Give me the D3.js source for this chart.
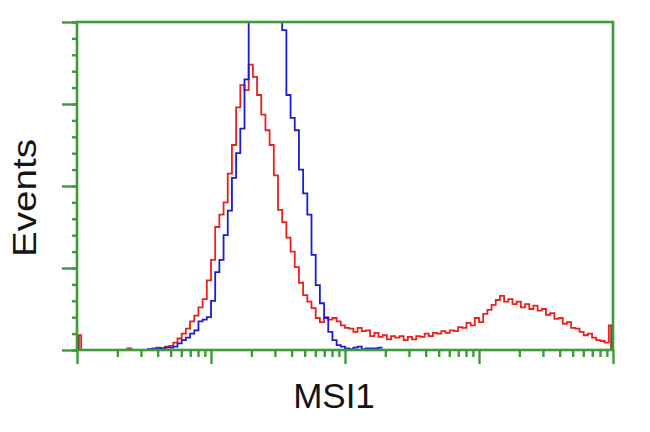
<!DOCTYPE html>
<html>
<head>
<meta charset="utf-8">
<script src="https://cdn.jsdelivr.net/npm/d3@7/dist/d3.min.js"></script>
<style>
  html, body { margin: 0; padding: 0; background: #ffffff; }
  svg { display: block; }
</style>
</head>
<body>
<svg id="chart" width="650" height="432"></svg>
<script>
// ---- data (128 channels over 4 log decades) ----
const xLabel = "MSI1";
const yLabel = "Events";
const channelsPerDecade = 32;
const decades = [1, 10, 100, 1000, 10000];

// red histogram (sample)
const redCounts = [
  18, 0, 0, 0, 0, 0, 0, 0, 0, 0, 0, 0, 2, 0, 0, 0,
  0, 1, 2, 3, 2, 4, 5, 9, 14, 20, 26, 35, 42, 52, 62, 85,
  110, 150, 165, 180, 215, 250, 296, 323, 317, 348, 333, 311, 287, 268, 250, 213,
  171, 156, 137, 120, 101, 82, 67, 59, 51, 39, 34, 40, 37, 39, 35, 30,
  27, 26, 22, 27, 23, 24, 17, 21, 16, 18, 13, 17, 15, 17, 12, 16,
  13, 17, 16, 20, 17, 21, 20, 23, 21, 24, 23, 28, 27, 33, 30, 39,
  34, 44, 49, 55, 61, 66, 59, 62, 56, 59, 52, 56, 50, 54, 48, 50,
  43, 45, 38, 39, 32, 34, 27, 26, 22, 18, 20, 15, 12, 11, 9, 30
];

// blue histogram (isotype control), ends at channel 72
const blueCounts = [
  0, 0, 0, 0, 0, 0, 0, 0, 0, 0, 0, 0, 0, 0, 0, 0,
  0, 1, 1, 2, 2, 3, 3, 4, 8, 12, 15, 20, 24, 35, 37, 40,
  60, 95, 110, 140, 170, 210, 240, 270, 330, 420, 470, 500, 520, 510, 490, 470,
  440, 390, 311, 283, 268, 220, 191, 165, 116, 79, 57, 39, 22, 12, 6, 4,
  2, 1, 3, 4, 1, 2, 2, 2, 3
];

const yMax = 400;
const yMajorTicks = [0, 100, 200, 300, 400];
const yMinorTicks = d3.range(0, 401, 20);

(function () {
  // ---- layout ----
  const svg = d3.select("#chart");
  const pLeft = 77, pRight = 613, pTop = 22, pBottom = 350;
  const green = "#3d9a3d";

  const x = d3.scaleLog().domain([1, 10000]).range([pLeft, pRight]);
  const y = d3.scaleLinear().domain([0, yMax]).range([pBottom, pTop]);

  const chanVal = i => Math.pow(10, i / channelsPerDecade);

  svg.append("defs").append("clipPath").attr("id", "plotclip")
    .append("rect").attr("x", pLeft).attr("y", pTop)
    .attr("width", pRight - pLeft).attr("height", pBottom - pTop);

  function histPath(counts) {
    const pts = [];
    counts.forEach((c, i) => {
      pts.push([x(chanVal(i)), y(c)]);
      pts.push([x(chanVal(i + 1)), y(c)]);
    });
    return d3.line()(pts);
  }

  const g = svg.append("g").attr("clip-path", "url(#plotclip)");

  g.append("path").attr("d", histPath(redCounts))
    .attr("fill", "none").attr("stroke", "#e8211d").attr("stroke-width", 1.8);
  g.append("path").attr("d", histPath(blueCounts))
    .attr("fill", "none").attr("stroke", "#1c1cd2").attr("stroke-width", 1.8);

  // edge (off-scale) channels shown darker
  [0, redCounts.length - 1].forEach(i => {
    const xc = i === 0 ? x(chanVal(0)) + 1.5 : x(chanVal(i + 1)) - 1.5;
    g.append("line").attr("x1", xc).attr("x2", xc)
      .attr("y1", y(0)).attr("y2", y(redCounts[i]))
      .attr("stroke", "#8a2a22").attr("stroke-width", 2.5);
  });

  // ---- axes ----
  const yAxisMajor = d3.axisLeft(y).tickValues(yMajorTicks).tickSize(15).tickFormat("");
  const yAxisMinor = d3.axisLeft(y).tickValues(yMinorTicks).tickSize(5).tickFormat("");
  const ga1 = svg.append("g").attr("transform", `translate(${pLeft},0)`).call(yAxisMinor);
  const ga2 = svg.append("g").attr("transform", `translate(${pLeft},0)`).call(yAxisMajor);

  const xMinorTicks = [];
  for (let d = 0; d < 4; d++) for (let k = 2; k <= 9; k++) xMinorTicks.push(k * Math.pow(10, d));
  const xAxisMajor = d3.axisBottom(x).tickValues(decades).tickSize(14).tickFormat("");
  const xAxisMinor = d3.axisBottom(x).tickValues(xMinorTicks).tickSize(7).tickFormat("");
  const ga3 = svg.append("g").attr("transform", `translate(0,${pBottom})`).call(xAxisMinor);
  const ga4 = svg.append("g").attr("transform", `translate(0,${pBottom})`).call(xAxisMajor);

  [ga1, ga2, ga3, ga4].forEach(a => {
    a.select(".domain").remove();
    a.selectAll(".tick line").attr("stroke", green).attr("stroke-width", 2.4);
  });

  // frame
  svg.append("rect").attr("x", pLeft).attr("y", pTop)
    .attr("width", pRight - pLeft).attr("height", pBottom - pTop)
    .attr("fill", "none").attr("stroke", green).attr("stroke-width", 2.6);

  // labels
  svg.append("text").text(xLabel)
    .attr("x", 334).attr("y", 408).attr("text-anchor", "middle")
    .attr("font-family", "Liberation Sans, Arial, sans-serif")
    .attr("font-size", 35).attr("fill", "#141414");

  svg.append("text").text(yLabel)
    .attr("transform", "translate(36,198) rotate(-90)")
    .attr("text-anchor", "middle")
    .attr("font-family", "Liberation Sans, Arial, sans-serif")
    .attr("font-size", 34).attr("fill", "#141414")
    .attr("textLength", 118).attr("lengthAdjust", "spacingAndGlyphs");
})();
</script>
</body>
</html>
